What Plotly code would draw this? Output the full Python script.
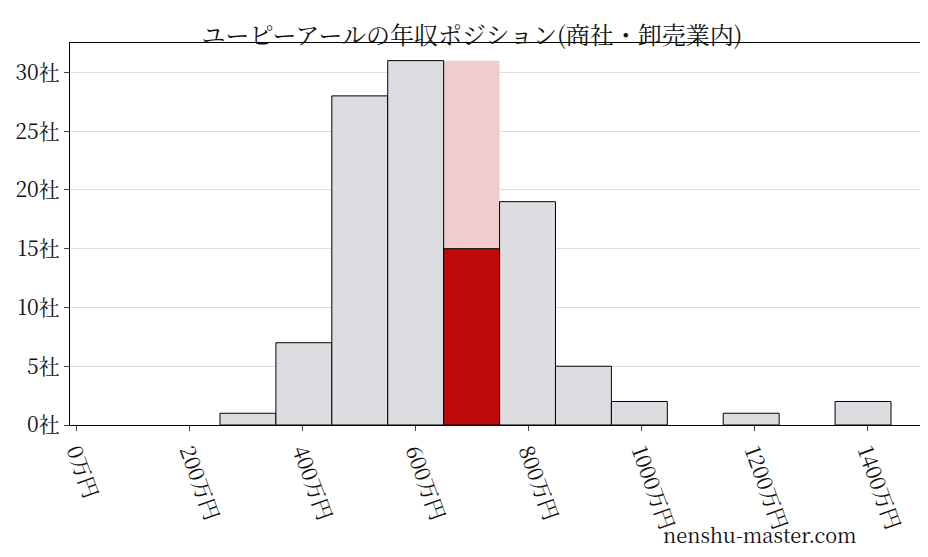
import plotly.graph_objects as go

centers = [304 + 99*k for k in range(12)]
counts = [1, 7, 28, 31, 0, 19, 5, 2, 0, 1, 0, 2]
highlight_center = 700
highlight_count = 15
highlight_bg = 31
tickvals = [0, 200, 400, 600, 800, 1000, 1200, 1400]
ticktext = [f"{v}万円" for v in tickvals]
yvals = [0, 5, 10, 15, 20, 25, 30]
ytext = [f"{v}社" for v in yvals]

cx = [c for c, v in zip(centers, counts) if v > 0]
cy = [v for v in counts if v > 0]

fig = go.Figure()
fig.add_bar(x=[highlight_center], y=[highlight_bg], width=99, marker=dict(color="#f0cccc", line=dict(width=0)))
fig.add_bar(x=cx, y=cy, width=99, marker=dict(color="#dcdde0", line=dict(color="black", width=1)))
fig.add_bar(x=[highlight_center], y=[highlight_count], width=99, marker=dict(color="#c00a0a", line=dict(color="black", width=1)))
fig.update_layout(
    width=928, height=557, barmode="overlay", showlegend=False,
    plot_bgcolor="white", paper_bgcolor="white",
    margin=dict(l=62, r=8, t=35, b=140),
    font=dict(family="Noto Serif CJK JP, Noto Sans CJK JP, serif", size=21, color="#111"),
    title=dict(text="ユーピーアールの年収ポジション(商社・卸売業内)", x=0.5, xanchor="center", y=0.965, font=dict(size=24)),
    xaxis=dict(range=[-11, 1508], tickvals=tickvals, ticktext=ticktext, tickangle=70, automargin=False,
               showgrid=False, showline=True, linecolor="black", mirror=True, ticks="outside", zeroline=False),
    yaxis=dict(range=[0, 32.5], tickvals=yvals, ticktext=ytext, showgrid=True, gridcolor="#dddddd", automargin=False,
               showline=True, linecolor="black", mirror=True, ticks="outside", zeroline=False),
)
fig.add_annotation(text="nenshu-master.com", xref="paper", yref="paper", x=0.92, y=-0.33,
                   showarrow=False, font=dict(size=20))
fig.write_html("out.html")
